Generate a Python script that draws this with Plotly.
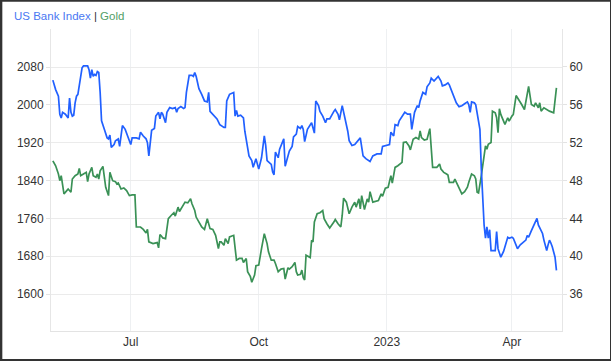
import plotly.graph_objects as go

bank_dates = [
    "2022-05-06","2022-05-08","2022-05-10","2022-05-11","2022-05-12","2022-05-13","2022-05-15","2022-05-16","2022-05-17","2022-05-18",
    "2022-05-19","2022-05-20","2022-05-21","2022-05-22","2022-05-23","2022-05-24","2022-05-25","2022-05-27","2022-05-28","2022-05-31",
    "2022-06-01","2022-06-02","2022-06-03","2022-06-04","2022-06-05","2022-06-06","2022-06-07","2022-06-08","2022-06-09","2022-06-10",
    "2022-06-12","2022-06-14","2022-06-15","2022-06-16","2022-06-17","2022-06-19","2022-06-20","2022-06-22","2022-06-23","2022-06-25",
    "2022-06-27","2022-06-29","2022-07-01","2022-07-02","2022-07-05","2022-07-07","2022-07-08","2022-07-10","2022-07-12","2022-07-13",
    "2022-07-14","2022-07-16","2022-07-18","2022-07-19","2022-07-21","2022-07-22","2022-07-23","2022-07-24","2022-07-26","2022-07-27",
    "2022-07-29","2022-07-31","2022-08-02","2022-08-03","2022-08-04","2022-08-06","2022-08-08","2022-08-09","2022-08-10","2022-08-12",
    "2022-08-14","2022-08-15","2022-08-16","2022-08-17","2022-08-19","2022-08-21","2022-08-23","2022-08-25","2022-08-26","2022-08-27",
    "2022-08-29","2022-09-01","2022-09-03","2022-09-06","2022-09-07","2022-09-08","2022-09-10","2022-09-13","2022-09-14","2022-09-15",
    "2022-09-16","2022-09-18","2022-09-20","2022-09-21","2022-09-24","2022-09-26","2022-09-27","2022-09-29","2022-10-01","2022-10-03",
    "2022-10-05","2022-10-06","2022-10-07","2022-10-10","2022-10-11","2022-10-12","2022-10-13","2022-10-15","2022-10-16","2022-10-17",
    "2022-10-19","2022-10-20","2022-10-22","2022-10-23","2022-10-25","2022-10-26","2022-10-28","2022-10-29","2022-10-31","2022-11-01",
    "2022-11-02","2022-11-03","2022-11-05","2022-11-07","2022-11-08","2022-11-10","2022-11-11","2022-11-13","2022-11-14","2022-11-16",
    "2022-11-18","2022-11-19","2022-11-21","2022-11-24","2022-11-25","2022-11-27","2022-11-28","2022-11-30","2022-12-02","2022-12-04",
    "2022-12-05","2022-12-07","2022-12-09","2022-12-11","2022-12-13","2022-12-15","2022-12-17","2022-12-20","2022-12-22","2022-12-25",
    "2022-12-28","2022-12-29","2023-01-01","2023-01-03","2023-01-04","2023-01-06","2023-01-07","2023-01-09","2023-01-10","2023-01-12",
    "2023-01-14","2023-01-16","2023-01-18","2023-01-19","2023-01-20","2023-01-21","2023-01-23","2023-01-24","2023-01-25","2023-01-27",
    "2023-01-29","2023-01-30","2023-02-01","2023-02-02","2023-02-04","2023-02-06","2023-02-07","2023-02-09","2023-02-10","2023-02-12",
    "2023-02-14","2023-02-15","2023-02-17","2023-02-18","2023-02-20","2023-02-22","2023-02-24","2023-02-26","2023-02-28","2023-03-01",
    "2023-03-02","2023-03-03","2023-03-05","2023-03-06","2023-03-08","2023-03-09","2023-03-10","2023-03-11","2023-03-12","2023-03-13",
    "2023-03-14","2023-03-15","2023-03-16","2023-03-17","2023-03-20","2023-03-21","2023-03-22","2023-03-24","2023-03-26","2023-03-27",
    "2023-03-29","2023-03-30","2023-04-01","2023-04-02","2023-04-03","2023-04-05","2023-04-07","2023-04-09","2023-04-11","2023-04-12",
    "2023-04-13","2023-04-15","2023-04-17","2023-04-19","2023-04-20","2023-04-22","2023-04-23","2023-04-24","2023-04-26","2023-04-27",
    "2023-04-28","2023-04-29","2023-04-30","2023-05-02","2023-05-03",
]
bank_values = [
    58.6,57.6,56.9,55.0,54.6,55.2,55.0,54.8,54.6,56.7,
    55.2,54.8,54.9,56.2,56.9,57.1,58.0,59.9,60.1,60.1,
    59.7,58.8,59.7,59.0,59.2,59.1,59.5,59.4,57.3,54.3,
    53.4,52.5,52.4,52.8,51.5,51.8,52.2,52.4,51.6,53.8,
    53.4,52.7,51.8,52.5,52.5,52.4,53.1,52.7,52.4,52.0,
    50.6,53.3,53.5,54.8,55.2,54.5,55.2,55.0,54.1,55.2,
    55.7,55.6,55.7,55.2,55.6,55.8,55.6,55.7,57.3,59.1,
    59.1,59.0,59.4,59.0,57.7,57.1,56.4,56.3,57.3,55.3,
    55.0,54.5,53.9,53.6,53.6,56.4,57.1,57.3,54.8,55.4,
    54.8,54.9,54.6,53.2,50.6,50.1,49.4,50.3,49.2,50.4,
    52.7,51.7,50.1,49.7,48.9,48.6,51.0,50.4,51.3,51.7,
    52.4,49.5,50.6,51.1,51.6,52.6,52.9,53.7,53.5,53.8,
    53.4,52.1,53.4,53.8,54.1,53.0,56.4,55.9,55.3,54.8,
    54.1,54.5,54.5,55.3,55.5,55.0,54.4,55.9,54.6,53.2,
    52.2,51.7,51.8,52.2,52.5,50.6,50.3,50.0,50.6,50.8,
    50.8,51.6,51.7,51.8,53.1,52.7,53.9,53.8,54.3,54.8,
    55.2,55.0,55.0,53.4,54.3,55.2,55.9,55.7,56.4,57.3,
    57.1,57.9,58.3,58.8,58.5,58.8,59.0,58.5,58.0,58.1,
    58.3,58.1,57.4,56.9,56.2,55.8,55.9,56.1,56.3,56.0,
    55.2,56.3,56.2,56.0,53.9,53.4,49.2,46.1,43.3,41.9,
    43.1,41.9,42.8,40.6,40.6,42.6,40.8,39.9,40.5,41.0,
    42.0,41.9,42.0,41.9,41.5,40.8,41.2,41.5,41.7,42.2,
    42.0,42.7,43.4,44.0,43.3,42.6,42.4,41.7,40.6,41.2,
    41.7,41.4,41.0,39.9,38.5,
]

gold_dates = [
    "2022-05-06","2022-05-08","2022-05-10","2022-05-11","2022-05-12","2022-05-13","2022-05-14","2022-05-16","2022-05-17","2022-05-19",
    "2022-05-20","2022-05-22","2022-05-24","2022-05-25","2022-05-26","2022-05-28","2022-05-30","2022-05-31","2022-06-01","2022-06-03",
    "2022-06-04","2022-06-06","2022-06-07","2022-06-08","2022-06-09","2022-06-11","2022-06-12","2022-06-13","2022-06-15","2022-06-16",
    "2022-06-18","2022-06-20","2022-06-21","2022-06-22","2022-06-24","2022-06-26","2022-06-28","2022-06-30","2022-07-02","2022-07-04",
    "2022-07-05","2022-07-08","2022-07-10","2022-07-12","2022-07-13","2022-07-14","2022-07-17","2022-07-20","2022-07-21","2022-07-22",
    "2022-07-23","2022-07-24","2022-07-26","2022-07-28","2022-07-30","2022-08-01","2022-08-02","2022-08-04","2022-08-05","2022-08-07",
    "2022-08-09","2022-08-11","2022-08-13","2022-08-14","2022-08-16","2022-08-17","2022-08-19","2022-08-21","2022-08-23","2022-08-24",
    "2022-08-25","2022-08-27","2022-08-29","2022-08-31","2022-09-02","2022-09-03","2022-09-04","2022-09-06","2022-09-07","2022-09-09",
    "2022-09-10","2022-09-13","2022-09-14","2022-09-15","2022-09-17","2022-09-19","2022-09-20","2022-09-22","2022-09-23","2022-09-25",
    "2022-09-26","2022-09-28","2022-09-29","2022-10-01","2022-10-03","2022-10-05","2022-10-07","2022-10-08","2022-10-10","2022-10-12",
    "2022-10-13","2022-10-15","2022-10-17","2022-10-19","2022-10-20","2022-10-22","2022-10-23","2022-10-25","2022-10-27","2022-10-28",
    "2022-10-29","2022-10-31","2022-11-01","2022-11-02","2022-11-03","2022-11-04","2022-11-07","2022-11-08","2022-11-09","2022-11-10",
    "2022-11-12","2022-11-14","2022-11-16","2022-11-17","2022-11-19","2022-11-21","2022-11-24","2022-11-25","2022-11-27","2022-11-29",
    "2022-11-30","2022-12-01","2022-12-03","2022-12-05","2022-12-07","2022-12-09","2022-12-10","2022-12-12","2022-12-13","2022-12-14",
    "2022-12-16","2022-12-18","2022-12-19","2022-12-20","2022-12-22","2022-12-25","2022-12-26","2022-12-28","2022-12-29","2022-12-31",
    "2023-01-02","2023-01-04","2023-01-05","2023-01-07","2023-01-09","2023-01-12","2023-01-13","2023-01-15","2023-01-17","2023-01-18",
    "2023-01-20","2023-01-22","2023-01-24","2023-01-25","2023-01-26","2023-01-28","2023-01-30","2023-02-01","2023-02-03","2023-02-06",
    "2023-02-08","2023-02-09","2023-02-11","2023-02-13","2023-02-14","2023-02-15","2023-02-18","2023-02-19","2023-02-21","2023-02-24",
    "2023-02-26","2023-02-28","2023-03-01","2023-03-03","2023-03-05","2023-03-06","2023-03-07","2023-03-08","2023-03-10","2023-03-11",
    "2023-03-12","2023-03-13","2023-03-14","2023-03-15","2023-03-17","2023-03-18","2023-03-20","2023-03-21","2023-03-22","2023-03-23",
    "2023-03-24","2023-03-26","2023-03-27","2023-03-29","2023-03-30","2023-04-01","2023-04-02","2023-04-04","2023-04-06","2023-04-08",
    "2023-04-10","2023-04-12","2023-04-13","2023-04-15","2023-04-17","2023-04-18","2023-04-20","2023-04-21","2023-04-22","2023-04-24",
    "2023-04-26","2023-04-28","2023-05-01","2023-05-02","2023-05-03",
]
gold_values = [
    1881.8,1871.3,1853.9,1839.8,1850.3,1829.3,1811.8,1818.8,1822.3,1815.4,
    1843.3,1850.3,1853.9,1865.8,1850.3,1853.9,1857.4,1837.7,1853.9,1867.9,
    1850.3,1846.9,1853.9,1843.3,1860.8,1870.0,1846.9,1825.9,1808.3,1857.4,
    1839.8,1837.7,1832.8,1834.9,1822.3,1824.4,1818.8,1808.3,1809.8,1809.8,
    1741.9,1741.9,1736.9,1729.3,1736.9,1710.4,1706.9,1708.9,1697.8,1725.8,
    1723.0,1718.9,1717.4,1759.4,1766.3,1772.0,1765.0,1783.9,1774.7,1783.9,
    1794.4,1792.9,1801.4,1790.9,1776.8,1762.9,1752.4,1741.9,1736.9,1752.4,
    1759.4,1738.4,1736.9,1724.3,1696.4,1710.4,1710.4,1703.3,1717.4,1706.9,
    1720.9,1724.3,1703.3,1671.8,1675.4,1675.4,1666.9,1675.4,1647.5,1636.9,
    1625.0,1640.3,1660.0,1661.3,1696.4,1727.8,1706.9,1689.4,1671.8,1671.8,
    1664.9,1647.5,1652.9,1654.3,1631.9,1655.8,1652.9,1657.9,1666.9,1647.5,
    1640.3,1641.7,1650.8,1634.8,1629.8,1682.3,1677.4,1713.8,1710.4,1752.4,
    1769.9,1772.0,1776.8,1759.4,1748.9,1739.8,1752.4,1757.9,1748.9,1741.9,
    1766.3,1802.8,1794.4,1769.9,1783.9,1794.4,1783.9,1801.4,1780.4,1808.3,
    1778.9,1801.4,1794.4,1816.7,1794.4,1797.8,1797.8,1811.8,1807.0,1823.8,
    1825.9,1850.3,1834.9,1867.9,1871.3,1878.4,1920.4,1921.7,1913.3,1904.9,
    1927.4,1930.9,1927.4,1944.8,1930.9,1925.9,1927.4,1949.8,1867.9,1867.9,
    1874.9,1864.4,1857.4,1853.9,1851.8,1836.4,1836.4,1843.3,1829.3,1811.8,
    1816.7,1825.9,1836.4,1853.9,1850.3,1843.3,1815.4,1814.0,1850.3,1878.4,
    1892.3,1913.3,1906.3,1916.8,1920.4,1986.8,1983.4,1972.9,1941.4,1991.8,
    1979.8,1965.8,1958.8,1972.9,1965.8,1976.3,1979.8,2019.7,2011.3,2000.8,
    1990.3,2018.3,2039.3,2000.8,1997.3,2004.4,1993.9,2004.4,1986.8,1993.9,
    1990.3,1986.8,1983.4,2018.3,2035.9,
]

gold_ticks = [1600, 1680, 1760, 1840, 1920, 2000, 2080]
bank_ticks = [36, 40, 44, 48, 52, 56, 60]
x_tick_dates = ["2022-07-01", "2022-10-01", "2023-01-01", "2023-04-01"]
x_tick_labels = ["Jul", "Oct", "2023", "Apr"]

BLUE = "#2160ff"
GREEN = "#3a9156"
FONT = "Liberation Sans, Arial, sans-serif"

fig = go.Figure()
fig.add_trace(go.Scatter(x=gold_dates, y=gold_values, mode="lines", name="Gold",
                         line=dict(color=GREEN, width=1.7), yaxis="y"))
fig.add_trace(go.Scatter(x=bank_dates, y=bank_values, mode="lines", name="US Bank Index",
                         line=dict(color=BLUE, width=1.7), yaxis="y2"))

fig.update_layout(
    width=611, height=361,
    margin=dict(l=51, r=49, t=29, b=28),
    paper_bgcolor="white", plot_bgcolor="white",
    showlegend=False,
    font=dict(family=FONT, size=12, color="#333333"),
    xaxis=dict(
        range=["2022-05-04 16:00", "2023-05-07"],
        tickvals=x_tick_dates, ticktext=x_tick_labels,
        showgrid=True, gridcolor="#eef0f2", gridwidth=1,
        showline=True, linecolor="#e3e3e3", linewidth=1,
        ticks="", zeroline=False,
        tickfont=dict(size=12, color="#333333"),
    ),
    yaxis=dict(
        range=[1522.1, 2160.4],
        tickvals=gold_ticks, ticktext=[str(v) for v in gold_ticks],
        showgrid=True, gridcolor="#ebebeb", gridwidth=1,
        showline=True, linecolor="#e6e6e6", linewidth=1,
        ticks="outside", ticklen=4, tickcolor="#e3e3e3",
        zeroline=False, tickfont=dict(size=12, color="#333333"),
    ),
    yaxis2=dict(
        range=[32.1, 64.0], overlaying="y", side="right",
        tickvals=bank_ticks, ticktext=[str(v) for v in bank_ticks],
        showgrid=False,
        showline=True, linecolor="#e6e6e6", linewidth=1,
        ticks="outside", ticklen=4, tickcolor="#e3e3e3",
        zeroline=False, tickfont=dict(size=12, color="#333333"),
    ),
)

fig.add_annotation(
    xref="paper", yref="paper", x=-0.0762, y=1.0428,
    xanchor="left", yanchor="middle", showarrow=False,
    text=("<span style='color:#4a78f2'>US Bank Index</span>"
          "<span style='color:#333333'> | </span>"
          "<span style='color:#52a068'>Gold</span>"),
    font=dict(family=FONT, size=11.5),
)

fig.add_shape(type="rect", xref="paper", yref="paper",
              x0=-0.0977, x1=1.0964, y0=-0.0971, y1=1.0945,
              line=dict(color="#333333", width=2.5), fillcolor="rgba(0,0,0,0)")

fig.write_html("out.html",
               config={"displayModeBar": False},
               post_script="document.body.style.margin='0';document.body.style.overflow='hidden';")
